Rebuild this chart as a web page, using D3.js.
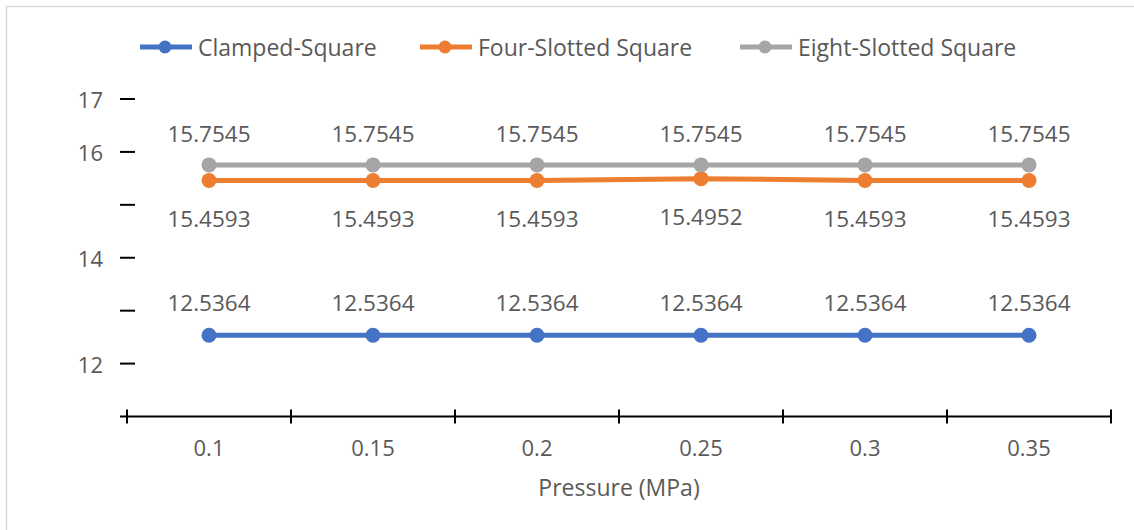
<!DOCTYPE html>
<html>
<head>
<meta charset="utf-8">
<script src="https://cdn.jsdelivr.net/npm/d3@7/dist/d3.min.js"></script>
<style>
  html, body { margin: 0; padding: 0; background: #fff; }
  svg { display: block; }
  text { font-family: "Open Sans", "Noto Sans", sans-serif; fill: #595959; }
</style>
</head>
<body>
<svg id="chart" width="1134" height="530"></svg>
<script>
// Pressure categories and natural frequency values per plate configuration
const pressures = ["0.1", "0.15", "0.2", "0.25", "0.3", "0.35"];
const clampedSquare = [12.5364, 12.5364, 12.5364, 12.5364, 12.5364, 12.5364];
const fourSlotted = [15.4593, 15.4593, 15.4593, 15.4952, 15.4593, 15.4593];
const eightSlotted = [15.7545, 15.7545, 15.7545, 15.7545, 15.7545, 15.7545];
const seriesNames = ["Clamped-Square", "Four-Slotted Square", "Eight-Slotted Square"];
const yTicks = [12, 13, 14, 15, 16, 17];
const yTickLabels = ["12", "", "14", "", "16", "17"];
const xTitle = "Pressure (MPa)";

const series = [
  { name: seriesNames[0], values: clampedSquare, color: "#4472C4", labelDy: -24 },
  { name: seriesNames[1], values: fourSlotted, color: "#ED7D31", labelDy: 46 },
  { name: seriesNames[2], values: eightSlotted, color: "#A5A5A5", labelDy: -23 }
];

const svg = d3.select("#chart");

// outer chart frame
svg.append("rect")
  .attr("x", 6.5).attr("y", 6.5)
  .attr("width", 1140).attr("height", 540)
  .attr("fill", "none").attr("stroke", "#d9d9d9").attr("stroke-width", 1.5);

const plotLeft = 127, plotRight = 1111;
const x = d3.scaleBand().domain(pressures).range([plotLeft, plotRight]).padding(0);
const y = d3.scaleLinear().domain([11, 17]).range([416.5, 99]);
const cx = d => x(d) + x.bandwidth() / 2;

// y axis: cross tick marks only, no axis line
const yAxis = svg.append("g");
yAxis.selectAll("line").data(yTicks).join("line")
  .attr("x1", 120).attr("x2", 135)
  .attr("y1", d => y(d)).attr("y2", d => y(d))
  .attr("stroke", "#000").attr("stroke-width", 2);
yAxis.selectAll("text").data(yTicks).join("text")
  .attr("x", 103).attr("y", d => y(d) + 9)
  .attr("text-anchor", "end")
  .attr("font-size", 22)
  .text((d, i) => yTickLabels[i]);

// x axis with cross ticks at band boundaries
const xAxis = svg.append("g");
xAxis.append("line")
  .attr("x1", 120).attr("x2", plotRight)
  .attr("y1", y(11)).attr("y2", y(11))
  .attr("stroke", "#000").attr("stroke-width", 2);
const boundaries = pressures.map(p => x(p)).concat([plotRight]);
xAxis.selectAll("line.tick").data(boundaries).join("line")
  .attr("class", "tick")
  .attr("x1", d => d).attr("x2", d => d)
  .attr("y1", y(11) - 7).attr("y2", y(11) + 7)
  .attr("stroke", "#000").attr("stroke-width", 2);
xAxis.selectAll("text").data(pressures).join("text")
  .attr("x", d => cx(d)).attr("y", 456)
  .attr("text-anchor", "middle")
  .attr("font-size", 22)
  .text(d => d);

svg.append("text")
  .attr("x", (plotLeft + plotRight) / 2).attr("y", 496)
  .attr("text-anchor", "middle")
  .attr("font-size", 23)
  .text(xTitle);

// series lines, markers and value labels
const line = d3.line().x((d, i) => cx(pressures[i])).y(d => y(d));
series.forEach(s => {
  const g = svg.append("g");
  g.append("path")
    .attr("d", line(s.values))
    .attr("fill", "none").attr("stroke", s.color)
    .attr("stroke-width", 5).attr("stroke-linejoin", "round");
  g.selectAll("circle").data(s.values).join("circle")
    .attr("cx", (d, i) => cx(pressures[i])).attr("cy", d => y(d))
    .attr("r", 7.5).attr("fill", s.color);
  g.selectAll("text").data(s.values).join("text")
    .attr("x", (d, i) => cx(pressures[i]) + 0)
    .attr("y", d => y(d) + s.labelDy)
    .attr("text-anchor", "middle")
    .attr("font-size", 22.5)
    .text(d => d.toFixed(4));
});

// legend
const legendX = [140, 420, 740];
series.forEach((s, i) => {
  const g = svg.append("g").attr("transform", `translate(${legendX[i]},47)`);
  g.append("line").attr("x1", 0).attr("x2", 52).attr("y1", 0).attr("y2", 0)
    .attr("stroke", s.color).attr("stroke-width", 5);
  g.append("circle").attr("cx", 25).attr("cy", 0).attr("r", 6.5).attr("fill", s.color);
  g.append("text").attr("x", 58).attr("y", 8.5)
    .attr("font-size", 23)
    .text(s.name);
});
</script>
</body>
</html>
